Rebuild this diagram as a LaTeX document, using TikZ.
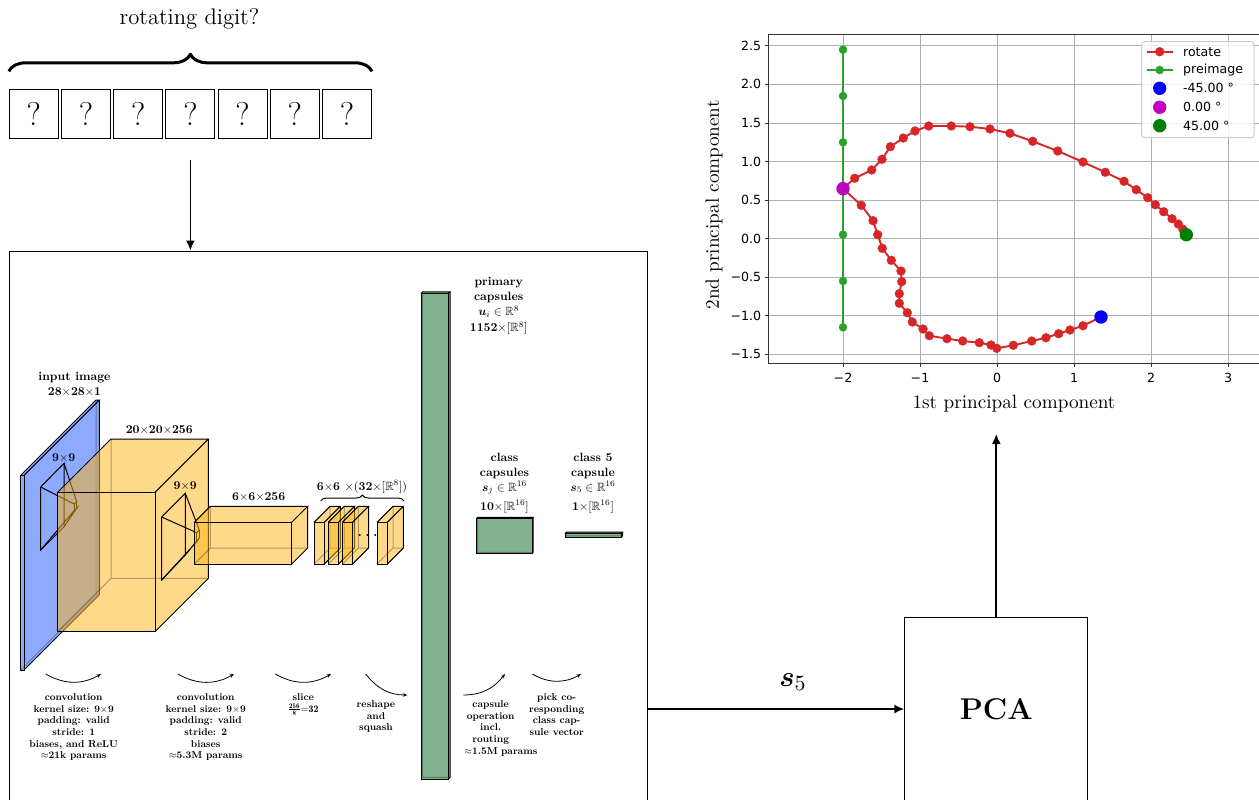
\documentclass[tikz,border=0pt]{standalone}
\usepackage{amsmath}
\usepackage{amssymb}
\usepackage{fontspec}
\usetikzlibrary{arrows.meta, positioning, decorations.pathreplacing}
\newfontfamily\plotfont{DejaVu Sans}
\definecolor{inputblue}{RGB}{142,170,255}
\definecolor{tensororange}{RGB}{255,179,21}
\definecolor{capsgreen}{RGB}{130,178,142}
\definecolor{tabred}{RGB}{214,39,40}
\definecolor{tabgreen}{RGB}{44,160,44}
\definecolor{midblue}{RGB}{0,0,255}
\definecolor{midmagenta}{RGB}{191,0,191}
\definecolor{midgreen}{RGB}{0,128,0}
\definecolor{gridgray}{RGB}{176,176,176}
\definecolor{legendgray}{RGB}{204,204,204}
\definecolor{axisgray}{RGB}{50,50,50}
% front top-left x, y, width, height, depth, colour, opacity
\newcommand{\tensorbox}[7]{%
  \fill[#6, fill opacity=#7] (#1,#2) -- ++(0,#4) -- ++(#3,0) -- ++(#5,-#5) -- ++(0,-#4) -- ++(-#3,0) -- cycle;
  \draw[edge, opacity=0.3] (#1,#2+#4) -- ++(#5,-#5) -- ++(#3,0) ++(-#3,0) -- ++(0,-#4);
  \draw[edge] (#1,#2) rectangle ++(#3,#4);
  \draw[edge] (#1,#2) -- ++(#5,-#5) -- ++(#3,0) -- ++(-#5,#5);
  \draw[edge] (#1+#3+#5,#2-#5) -- ++(0,#4) -- ++(-#5,#5);
}
% kernel corners a b c d, then the small end face e f g h
\newcommand{\kernelcone}[8]{%
  \draw[edge] #1 -- #2 -- #3 -- #4 -- cycle;
  \draw[edge] #1 -- #5 -- #6 -- #2 #4 -- #8 -- #7 -- #3;
  \draw[edge] #5 -- #8 #6 -- #7;
}
\begin{document}
\begin{tikzpicture}[
  x=0.5pt, y=-0.5pt,
  edge/.style={draw=black, line width=0.5pt},
  qbox/.style={rectangle, draw=black, line width=0.5pt, minimum size=24.5pt, inner sep=0pt,
    font=\fontsize{16.5}{18}\selectfont},
  arrow/.style={-{Latex[length=5pt,width=4.5pt]}, line width=0.85pt},
  bendarrow/.style={-{Stealth[length=2.2pt,width=1.8pt]}, line width=0.4pt},
  shapelabel/.style={scale=0.6, transform shape, inner sep=0pt, align=center, font=\fontsize{10}{12.5}\selectfont\bfseries},
  oplabel/.style={scale=0.5, transform shape, inner sep=0pt, anchor=north, align=center, font=\fontsize{10}{11.7}\selectfont\bfseries},
  tick/.style={inner sep=0pt, font=\fontsize{6.3}{7.5}\selectfont\plotfont},
  axistext/.style={inner sep=0pt, font=\fontsize{9.6}{12}\selectfont},
  legendtext/.style={inner sep=0pt, anchor=west, font=\fontsize{6.3}{7.5}\selectfont\plotfont},
  bigdot/.style={radius=3.35pt},
  redmarks/.style={tabred, line width=0.95pt, mark=*, mark size=2.2pt, mark options={fill=tabred, draw=tabred, line width=0.2pt}},
  greenmarks/.style={tabgreen, line width=0.95pt, mark=*, mark size=2pt, mark options={fill=tabgreen, draw=tabgreen, line width=0.2pt}}
]
\useasboundingbox (0,0) rectangle (1259,799);

% digit row on top
\node[qbox] at (33.8,113.5) (q1) {?};
\node[qbox, right=1.1pt of q1] (q2) {?};
\node[qbox, right=1.1pt of q2] (q3) {?};
\node[qbox, right=1.1pt of q3] (q4) {?};
\node[qbox, right=1.1pt of q4] (q5) {?};
\node[qbox, right=1.1pt of q5] (q6) {?};
\node[qbox, right=1.1pt of q6] (q7) {?};
\node[font=\fontsize{11.3}{13}\selectfont, inner sep=0pt] at (189.5,18.5) (title) {rotating digit?};
\draw[decorate, decoration={brace, amplitude=8.5pt, raise=8.6pt}, line width=1.5pt, line join=round]
  (q1.north west) -- (q7.north east);

% network frame and pca
\node[rectangle, draw=black, line width=0.5pt, minimum width=319pt, minimum height=275pt, inner sep=0pt] at (328,526) (net) {};
\node[rectangle, draw=black, line width=0.5pt, minimum width=91.5pt, minimum height=92pt, inner sep=0pt,
  font=\fontsize{15}{17}\selectfont\bfseries] at (996.3,709) (pca) {PCA};
\coordinate (plotin) at (996.3,434);
\coordinate (digitout) at ([yshift=-10.7pt]q4.south);
\node[font=\fontsize{15.5}{17}\selectfont, inner sep=0pt] at (793,682) (slabel) {$\boldsymbol{s}_5$};

\draw[arrow] (digitout) -- (digitout |- net.north);
\draw[arrow] (net.east |- pca) -- (pca.west);
\draw[arrow] (pca.north) -- (plotin);

% input plane and first convolution
\tensorbox{20.7}{475.3}{3.3}{194.7}{75.3}{inputblue}{1}
\kernelcone{(40.7,487)}{(64,463.3)}{(64,526.7)}{(40.7,550)}{(74,504)}{(76.7,501.7)}{(76.7,508.3)}{(74,510.7)}
\tensorbox{57.7}{492.3}{97.3}{139.4}{53.3}{tensororange}{0.5}
\kernelcone{(161.7,517)}{(185.3,493.3)}{(185.3,555)}{(161.7,580)}{(196.7,532.7)}{(199.3,530)}{(199.3,538)}{(196.7,541.7)}
\tensorbox{194.3}{522.3}{97.4}{41.7}{16}{tensororange}{0.5}

% slices
\tensorbox{314}{522.3}{10.3}{41.7}{16}{tensororange}{0.5}
\tensorbox{328.3}{522.3}{10.3}{41.7}{16}{tensororange}{0.5}
\tensorbox{342.3}{522.3}{10.3}{41.7}{16}{tensororange}{0.5}
\tensorbox{377}{522.3}{10.3}{41.7}{16}{tensororange}{0.5}
\node[inner sep=0pt, font=\fontsize{6.5}{8}\selectfont] at (369,535) (dots) {$\boldsymbol{\cdots}$};

% capsule layers
\tensorbox{421}{293.6}{27.3}{485.4}{1.7}{capsgreen}{1}
\tensorbox{476.7}{518.3}{55.5}{35}{1}{capsgreen}{1}
\tensorbox{565}{533.5}{56}{3.8}{1.5}{capsgreen}{1}

% shape labels
\node[shapelabel] at (74.5,384.5) (inputlab) {input image\\[0.5pt]28$\times$28$\times$1};
\node[shapelabel] at (63.7,458.3) (kernelone) {9$\times$9};
\node[shapelabel] at (185.3,486.3) (kerneltwo) {9$\times$9};
\node[shapelabel] at (159.3,430) (convone) {20$\times$20$\times$256};
\node[shapelabel] at (258.7,497) (convtwo) {6$\times$6$\times$256};
\node[shapelabel] at (362,486.7) (slicelab) {6$\times$6 $\times($32$\times[\mathbb{R}^8])$};
\coordinate (bracel) at (320.7,501);
\coordinate (bracer) at (404,501);
\draw[decorate, decoration={brace, amplitude=3pt}, line width=0.5pt] (bracel) -- (bracer);
\node[shapelabel] at (498.7,306) (primlab) {primary\\capsules\\$\boldsymbol{u}_i\in\mathbb{R}^8$\\[0.5pt]1152$\times[\mathbb{R}^8]$};
\node[shapelabel] at (504.5,483) (classlab) {class\\capsules\\$\boldsymbol{s}_j\in\mathbb{R}^{16}$\\[3.5pt]10$\times[\mathbb{R}^{16}]$};
\node[shapelabel] at (593,483) (onelab) {class 5\\capsule\\$\boldsymbol{s}_5\in\mathbb{R}^{16}$\\[3.5pt]1$\times[\mathbb{R}^{16}]$};

% operation captions
\node[oplabel] at (73.7,693.3) (opone) {convolution\\kernel size: 9$\times$9\\padding: valid\\stride: 1\\biases, and ReLU\\$\approx$21k params};
\node[oplabel] at (205.7,693.3) (optwo) {convolution\\kernel size: 9$\times$9\\padding: valid\\stride: 2\\biases\\$\approx$5.3M params};
\node[oplabel] at (303.3,693.3) (opslice) {slice\\$\frac{\mathbf{256}}{\mathbf{8}}{=}\mathbf{32}$};
\node[oplabel] at (376,700.3) (opsquash) {reshape\\and\\squash};
\node[oplabel, text width=52.8pt] at (490.7,700.3) (oprouting) {capsule\\operation\\incl.\\routing\\\mbox{$\approx$1.5M params}};
\node[oplabel] at (556.7,693.3) (oppick) {pick co-\\responding\\class cap-\\sule vector};

% bent arrows over the captions
\coordinate (aones) at (45.7,674);
\coordinate (aonee) at (101,674);
\coordinate (atwos) at (178,674);
\coordinate (atwoe) at (234,674);
\coordinate (athrees) at (275.3,674);
\coordinate (athreee) at (331,674);
\coordinate (afours) at (365.7,674);
\coordinate (afoure) at (407.3,695);
\coordinate (afives) at (463.3,695);
\coordinate (afivee) at (505,674);
\coordinate (asixs) at (532.3,674);
\coordinate (asixe) at (581,674);
\draw[bendarrow] (aones) to[bend right=30] (aonee);
\draw[bendarrow] (atwos) to[bend right=30] (atwoe);
\draw[bendarrow] (athrees) to[bend right=30] (athreee);
\draw[bendarrow] (afours) to[out=-52, in=180] (afoure);
\draw[bendarrow] (afives) to[out=0, in=-128] (afivee);
\draw[bendarrow] (asixs) to[bend right=30] (asixe);

% plot: grid
\foreach \px in {843,920,997,1074,1151,1228}
  \draw[gridgray, line width=0.5pt] (\px,34.7) -- (\px,363);
\foreach \py in {45.7,84.3,123,161.7,200.3,238.6,277,315.7,354}
  \draw[gridgray, line width=0.5pt] (768.7,\py) -- (1259,\py);

% plot: frame and ticks
\draw[axisgray, line width=0.5pt] (1259,34.7) -- (768.7,34.7) -- (768.7,363) -- (1259,363);
\foreach \px/\lab in {843/−2,920/−1,997/0,1074/1,1151/2,1228/3} {
  \draw[axisgray, line width=0.5pt] (\px,363) -- (\px,367);
  \node[tick] at (\px,377.5) (xtick\px) {\lab};
}
\foreach \py/\lab in {45.7/2.5,84.3/2.0,123/1.5,161.7/1.0,200.3/0.5,238.6/0.0,277/−0.5,315.7/−1.0,354/−1.5} {
  \draw[axisgray, line width=0.5pt] (768.7,\py) -- (764.7,\py);
  \node[tick, anchor=east] at (761.5,\py) (ytick\py) {\lab};
}
\node[axistext] at (1014,404) (xlab) {1st principal component};
\node[axistext, rotate=90] at (714,205) (ylab) {2nd principal component};

% plot: curves
\draw[greenmarks]
  plot coordinates {(843,49.7) (843,96) (843,142.3) (843,188.6) (843,234.7) (843,281) (843,327.3)};
\draw[redmarks]
  plot coordinates {(1101,317) (1083,325.7) (1070,330) (1058.7,333.7) (1046,337.7) (1031.7,341) (1013.3,345.3)
    (996.7,348.3) (991,345) (979.3,342.7) (962.7,341) (947,338.7) (929.3,335.7) (923,329) (912.3,322)
    (907.3,312.7) (899.3,303.3) (899.3,293.7) (901.7,281.7) (901,271) (891.3,260.3) (882.3,248.3) (877.7,234.7)
    (873,220.7) (861.3,205.3) (843,188.6) (854.7,178.3) (871.7,170) (882,159.3) (890.3,146.7) (903.3,138)
    (915,131) (928.7,126) (951.3,126) (970,126.7) (990,129) (1010,133.3) (1032.7,141.3) (1057.7,151)
    (1083,162) (1105.3,172.3) (1124,181.3) (1136.3,189.7) (1147.7,197.7) (1155.3,204.7) (1163.7,211.7)
    (1172,218.7) (1178.3,224) (1182.7,229) (1186.3,234.7)};
\fill[midblue] (1101,317) circle[bigdot];
\fill[midmagenta] (843,188.6) circle[bigdot];
\fill[midgreen] (1186.3,234.7) circle[bigdot];

% plot: legend
\draw[legendgray, line width=0.5pt, fill=white, fill opacity=0.8, rounded corners=1.5pt] (1141.7,41.7) rectangle (1254,137.7);
\draw[redmarks, mark indices={2}]
  plot coordinates {(1146.7,51.7) (1159.7,51.7) (1173,51.7)};
\draw[greenmarks, mark indices={2}]
  plot coordinates {(1146.7,70) (1159.7,70) (1173,70)};
\fill[midblue] (1159.7,88.3) circle[bigdot];
\fill[midmagenta] (1159.7,107.3) circle[bigdot];
\fill[midgreen] (1159.7,125.7) circle[bigdot];
\node[legendtext] at (1182.7,51.7) (legrot) {rotate};
\node[legendtext] at (1182.7,70) (legpre) {preimage};
\node[legendtext] at (1182.7,88.3) (legminus) {-45.00 °};
\node[legendtext] at (1182.7,107.3) (legzero) {0.00 °};
\node[legendtext] at (1182.7,125.7) (legplus) {45.00 °};
\end{tikzpicture}
\end{document}
